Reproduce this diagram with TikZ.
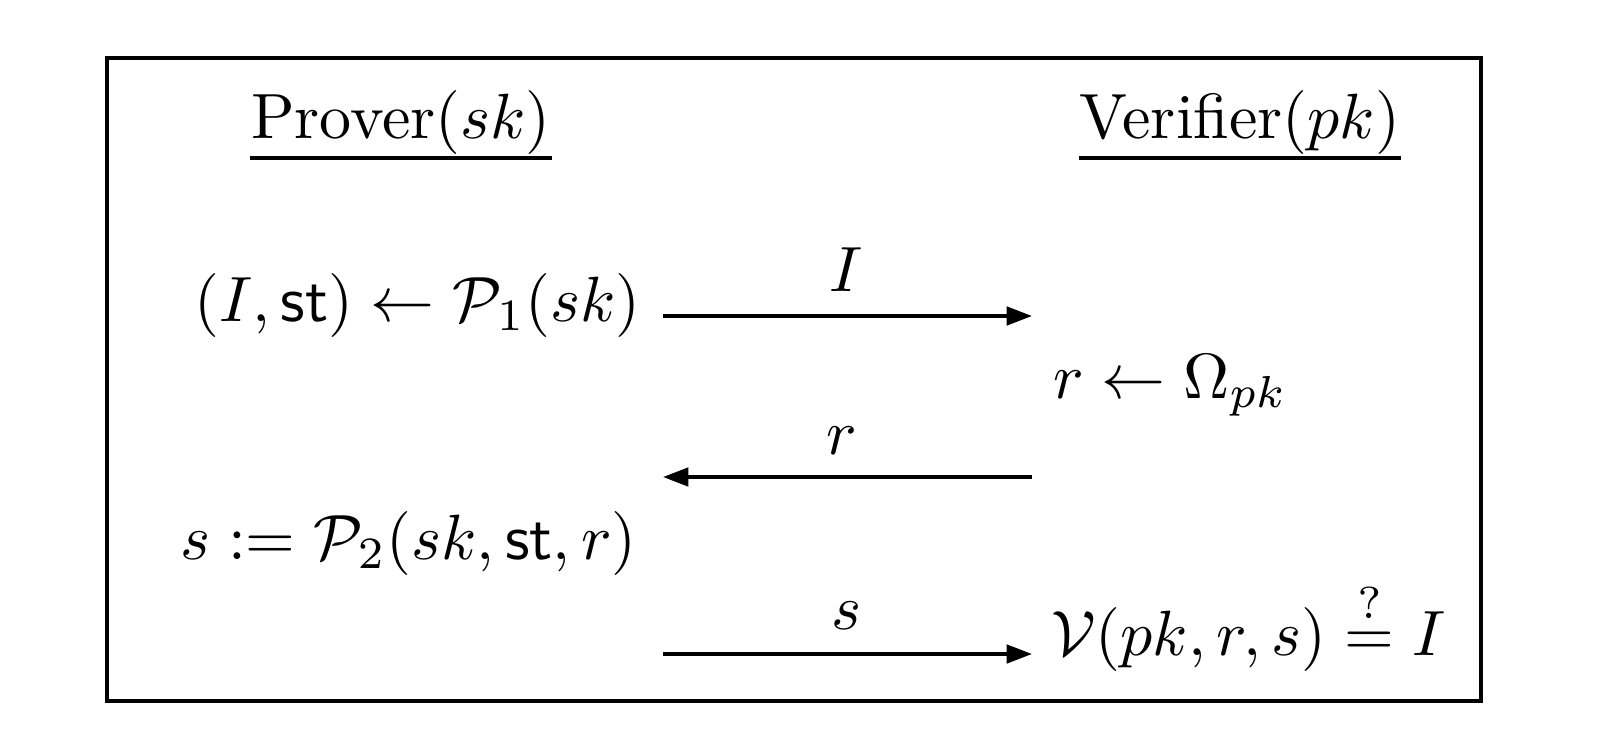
\documentclass[tikz,border=0pt]{standalone}
\usepackage{amsmath}
\usetikzlibrary{arrows.meta,calc}
\begin{document}
\begin{tikzpicture}[x=0.02cm,y=-0.02cm,
  lbl/.style={scale=3.64, inner sep=0pt},
  rulel/.style={line width=2.1pt},
  msg/.style={line width=2.1pt, -{Triangle[length=14.5pt,width=10.5pt]}},
]
\useasboundingbox (0,0) rectangle (1599,750);
\draw[line width=2.2pt] (107,58) rectangle (1481,701);

% headers
\node[lbl, anchor=base] (prover) at (401,138) {Prover$(sk)$};
\node[lbl, anchor=base] (verifier) at (1240,138) {Verifier$(pk)$};
\draw[rulel] ($(prover.base west)+(0,20)$) -- ($(prover.base east)+(0,20)$);
\draw[rulel] ($(verifier.base west)+(0,20)$) -- ($(verifier.base east)+(0,20)$);

% prover steps
\node[lbl, anchor=base east] (p1) at (642,321) {$(I,\mathsf{st})\leftarrow\mathcal{P}_1(sk)$};
\node[lbl, anchor=base east] (p2) at (638,559) {$s:=\mathcal{P}_2(sk,\mathsf{st},r)$};

% verifier steps
\node[lbl, anchor=base west] (v1) at (1052,398) {$r\leftarrow\Omega_{pk}$};
\node[lbl, anchor=base west] (v2) at (1050,655) {$\mathcal{V}(pk,r,s)\stackrel{?}{=}I$};

% message endpoints
\coordinate (m1a) at (663,316);
\coordinate (m1b) at (1032,316);
\coordinate (m2a) at (1032,477);
\coordinate (m2b) at (663,477);
\coordinate (m3a) at (663,654);
\coordinate (m3b) at (1032,654);

\draw[msg] (m1a) -- (m1b);
\draw[msg] (m2a) -- (m2b);
\draw[msg] (m3a) -- (m3b);

% message labels
\node[lbl, anchor=base] (l1) at (846,291) {$I$};
\node[lbl, anchor=base] (l2) at (842,454) {$r$};
\node[lbl, anchor=base] (l3) at (846,629) {$s$};
\end{tikzpicture}
\end{document}
